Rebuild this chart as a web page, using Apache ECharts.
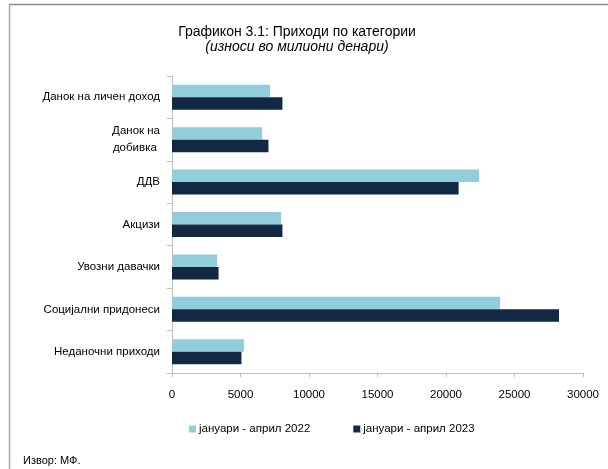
<!DOCTYPE html>
<html><head><meta charset="utf-8">
<script src="https://cdn.jsdelivr.net/npm/echarts@6/dist/echarts.min.js"></script>
<style>html,body{margin:0;padding:0;background:#fff}#c{width:608px;height:469px}</style>
</head><body><div id="c"></div>
<script>
const categories = ['Данок на личен доход', 'Данок на\nдобивка ', 'ДДВ', 'Акцизи', 'Увозни давачки', 'Социјални придонеси', 'Неданочни приходи'];
const seriesNames = ['јануари - април 2022', 'јануари - април 2023'];
const values2022 = [7150, 6580, 22420, 7970, 3300, 23950, 5250];
const values2023 = [8060, 7040, 20920, 8060, 3400, 28250, 5070];
const xTicks = [0, 5000, 10000, 15000, 20000, 25000, 30000];

const FONT = "'Liberation Sans', sans-serif";
const chart = echarts.init(document.getElementById('c'), null, {renderer: 'canvas'});
chart.setOption({
  backgroundColor: '#fff',
  animation: false,
  textStyle: {fontFamily: FONT},
  title: [
    {text: 'Графикон 3.1: Приходи по категории', left: 292, textAlign: 'center', top: 20,
     textStyle: {fontSize: 14, fontWeight: 'normal', color: '#000', fontFamily: FONT}},
    {text: '(износи во милиони денари)', left: 292, textAlign: 'center', top: 35,
     textStyle: {fontSize: 14, fontWeight: 'normal', fontStyle: 'italic', color: '#000', fontFamily: FONT}},
    {text: 'Извор: МФ.', left: 18, top: 450,
     textStyle: {fontSize: 11, fontWeight: 'normal', color: '#000', fontFamily: FONT}}
  ],
  legend: {
    data: seriesNames, left: 184, top: 418, itemWidth: 7, itemHeight: 7, itemGap: 43,
    icon: 'rect', textStyle: {fontSize: 11.5, color: '#000', fontFamily: FONT, padding: [0, 0, 0, -2]}
  },
  grid: {left: 172, right: 25, top: 76, bottom: 96, containLabel: false},
  xAxis: {
    type: 'value', min: xTicks[0], max: xTicks[xTicks.length - 1], interval: 5000,
    axisLine: {show: true, lineStyle: {color: '#bfbfbf', width: 1}},
    axisTick: {show: true, length: 4, lineStyle: {color: '#bfbfbf'}},
    splitLine: {show: false},
    axisLabel: {fontSize: 11.5, color: '#000', margin: 16, fontFamily: FONT,
      formatter: v => String(v)}
  },
  yAxis: {
    type: 'category', data: categories, inverse: true,
    axisLine: {show: true, lineStyle: {color: '#bfbfbf', width: 1}},
    axisTick: {show: true, length: 5, lineStyle: {color: '#bfbfbf'}},
    axisLabel: {fontSize: 11.5, color: '#000', margin: 12, lineHeight: 17, fontFamily: FONT}
  },
  series: [
    {name: seriesNames[0], type: 'bar', data: values2022, barGap: '0%', barCategoryGap: '41%',
     itemStyle: {color: '#92cddc'}},
    {name: seriesNames[1], type: 'bar', data: values2023, barGap: '0%', barCategoryGap: '41%',
     itemStyle: {color: '#132843'}}
  ],
  graphic: [
    {type: 'line', shape: {x1: 9, y1: 4.5, x2: 608, y2: 4.5}, style: {stroke: '#8c8c8c', lineWidth: 1.5}},
    {type: 'line', shape: {x1: 9.5, y1: 4, x2: 9.5, y2: 469}, style: {stroke: '#a6a6a6', lineWidth: 1.5}}
  ]
});
</script></body></html>
